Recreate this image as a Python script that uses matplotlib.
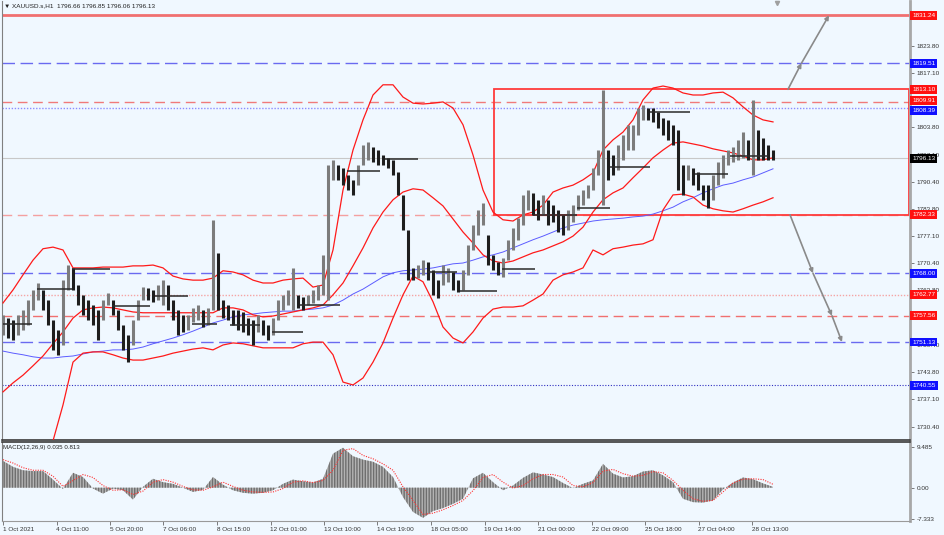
import numpy as np
import matplotlib.pyplot as plt
from matplotlib.patches import Rectangle
from matplotlib.ticker import FormatStrFormatter
from matplotlib.transforms import blended_transform_factory

plt.rcParams['font.family'] = ['Liberation Sans', 'DejaVu Sans']

# hourly bars of XAUUSD, sampled about every 3rd bar: high / low
bar_hi = [1757.8, 1757.0, 1756.5, 1757.8, 1759.0, 1761.4, 1763.9, 1765.6, 1763.9, 1761.4,
          1756.5, 1754.1, 1766.3, 1770.0, 1769.3, 1765.1, 1762.7, 1761.4, 1760.2, 1759.0,
          1761.4, 1763.2, 1761.4, 1759.0, 1755.3, 1752.9, 1756.5, 1761.4, 1764.6, 1764.4,
          1763.9, 1765.1, 1766.3, 1765.1, 1761.4, 1759.0, 1757.8, 1757.8, 1759.5, 1760.2,
          1759.0, 1759.5, 1781.1, 1773.0, 1761.4, 1760.2, 1759.0, 1759.0, 1758.5, 1757.0,
          1756.5, 1757.8, 1756.5, 1755.3, 1757.0, 1761.4, 1762.7, 1763.9, 1769.3, 1762.7,
          1762.2, 1762.7, 1763.9, 1765.1, 1772.5, 1794.5, 1795.8, 1794.5, 1793.8, 1792.1,
          1790.9, 1794.5, 1799.4, 1800.2, 1799.0, 1798.2, 1797.0, 1796.3, 1795.8, 1792.8,
          1787.2, 1778.6, 1769.3, 1770.0, 1771.2, 1770.8, 1768.8, 1766.3, 1770.0, 1769.3,
          1768.3, 1766.3, 1768.8, 1774.9, 1779.8, 1783.5, 1785.2, 1777.4, 1772.5, 1770.8,
          1771.7, 1776.2, 1779.1, 1781.5, 1787.2, 1788.4, 1787.7, 1786.0, 1787.2, 1786.0,
          1784.7, 1783.5, 1782.3, 1783.5, 1784.7, 1787.2, 1788.4, 1789.6, 1793.8, 1798.2,
          1812.9, 1798.2, 1797.0, 1799.4, 1801.9, 1804.4, 1804.4, 1808.5, 1809.3, 1808.5,
          1808.5, 1807.5, 1806.1, 1805.6, 1804.4, 1803.1, 1794.5, 1794.5, 1793.8, 1792.8,
          1789.6, 1789.6, 1792.1, 1795.3, 1797.0, 1798.2, 1799.0, 1800.7, 1802.6, 1800.7,
          1810.5, 1803.1, 1801.2, 1799.4, 1798.2]
bar_lo = [1752.9, 1752.1, 1751.6, 1752.9, 1754.1, 1755.3, 1759.0, 1761.4, 1759.0, 1755.3,
          1749.2, 1748.0, 1750.4, 1763.9, 1763.9, 1760.2, 1757.8, 1756.5, 1755.3, 1751.6,
          1756.5, 1760.2, 1757.8, 1754.1, 1749.2, 1746.2, 1750.4, 1756.5, 1761.4, 1761.4,
          1761.0, 1761.4, 1760.2, 1759.0, 1756.5, 1752.9, 1753.6, 1754.1, 1756.0, 1756.5,
          1754.8, 1755.3, 1759.0, 1759.0, 1757.0, 1756.5, 1755.3, 1754.1, 1753.6, 1752.9,
          1750.4, 1753.6, 1752.9, 1751.6, 1752.9, 1756.5, 1759.0, 1760.2, 1759.0, 1759.5,
          1759.0, 1760.2, 1760.7, 1761.4, 1762.7, 1761.4, 1790.9, 1790.9, 1789.6, 1788.4,
          1787.2, 1789.6, 1794.5, 1795.8, 1795.3, 1794.5, 1794.5, 1793.8, 1792.1, 1787.2,
          1778.6, 1766.3, 1766.3, 1766.8, 1767.6, 1766.3, 1762.7, 1761.9, 1765.1, 1765.9,
          1763.9, 1763.4, 1763.9, 1767.6, 1773.7, 1777.4, 1779.8, 1770.0, 1768.8, 1767.6,
          1767.1, 1771.2, 1773.7, 1776.2, 1779.8, 1783.5, 1782.3, 1781.1, 1782.3, 1779.8,
          1780.6, 1778.1, 1777.4, 1778.6, 1780.6, 1783.5, 1784.7, 1786.5, 1788.4, 1792.1,
          1784.7, 1790.9, 1792.1, 1793.3, 1795.8, 1798.2, 1798.2, 1801.9, 1805.6, 1805.6,
          1805.1, 1803.6, 1801.9, 1800.7, 1799.4, 1788.4, 1787.2, 1790.9, 1789.6, 1788.4,
          1786.0, 1784.0, 1786.0, 1789.6, 1791.4, 1794.5, 1795.3, 1795.8, 1796.3, 1795.8,
          1792.1, 1795.8, 1795.8, 1795.8, 1795.8]

# indicators, sampled about every 6th bar
bb_upper = [1760.7, 1763.9, 1767.6, 1771.2, 1774.0, 1774.4, 1773.7, 1769.3, 1769.3, 1769.3,
            1769.5, 1769.5, 1769.5, 1769.8, 1769.8, 1770.0, 1769.3, 1767.3, 1766.6, 1766.3,
            1766.3, 1766.8, 1768.6, 1768.3, 1767.6, 1766.3, 1765.6, 1765.6, 1766.3, 1766.6,
            1766.8, 1764.6, 1765.1, 1773.7, 1788.4, 1798.2, 1805.6, 1811.7, 1814.2, 1814.2,
            1811.2, 1809.7, 1809.5, 1809.7, 1810.0, 1808.5, 1804.4, 1797.0, 1788.4, 1783.0,
            1781.1, 1780.8, 1782.3, 1783.0, 1784.7, 1787.9, 1788.9, 1789.6, 1790.9, 1792.6,
            1798.2, 1800.7, 1802.6, 1805.6, 1810.5, 1813.4, 1813.9, 1813.4, 1812.2, 1811.7,
            1811.7, 1812.2, 1812.4, 1811.0, 1808.8, 1806.8, 1805.6, 1805.1]
bb_mid = [1738.9, 1741.1, 1743.0, 1745.3, 1747.7, 1750.7, 1753.6, 1757.0, 1759.0, 1759.5,
          1759.7, 1759.5, 1759.0, 1758.5, 1758.3, 1758.3, 1758.3, 1758.3, 1758.3, 1758.3,
          1758.3, 1758.3, 1759.5, 1759.5, 1759.0, 1757.8, 1757.3, 1757.5, 1758.0, 1758.5,
          1759.0, 1759.5, 1760.2, 1762.7, 1765.6, 1769.8, 1774.2, 1779.1, 1783.0, 1786.0,
          1787.9, 1788.7, 1788.4, 1786.5, 1784.5, 1781.3, 1778.1, 1775.4, 1772.5, 1771.0,
          1770.5, 1771.0, 1772.0, 1773.0, 1773.7, 1774.7, 1775.7, 1777.1, 1779.3, 1783.0,
          1786.0, 1787.7, 1788.9, 1791.4, 1793.8, 1796.3, 1798.2, 1799.9, 1800.2, 1799.7,
          1799.2, 1798.5, 1798.0, 1797.5, 1796.7, 1795.8, 1795.8, 1796.3]
bb_lower = [1717.1, 1718.3, 1718.5, 1719.3, 1721.5, 1726.9, 1735.7, 1746.2, 1748.4, 1748.7,
            1748.7, 1748.0, 1747.2, 1746.7, 1746.7, 1747.2, 1747.7, 1748.4, 1748.9, 1749.4,
            1749.7, 1749.2, 1750.4, 1750.9, 1750.7, 1750.2, 1749.7, 1749.7, 1749.7, 1749.7,
            1750.7, 1751.1, 1751.1, 1748.0, 1741.3, 1740.6, 1742.3, 1746.2, 1750.9, 1757.0,
            1762.7, 1767.3, 1765.9, 1761.0, 1754.8, 1752.1, 1750.9, 1753.6, 1757.0, 1759.2,
            1759.7, 1759.7, 1760.0, 1761.4, 1762.9, 1766.3, 1767.6, 1768.3, 1769.3, 1773.7,
            1772.5, 1774.0, 1774.4, 1774.9, 1775.2, 1776.2, 1783.5, 1787.2, 1787.4, 1786.7,
            1784.7, 1783.8, 1783.3, 1783.0, 1783.8, 1784.7, 1785.5, 1786.5]
ma_line = [1748.9, 1748.4, 1748.0, 1747.5, 1747.2, 1747.2, 1747.5, 1747.7, 1748.2, 1748.7,
           1748.9, 1749.2, 1749.2, 1749.4, 1749.9, 1750.7, 1751.4, 1752.1, 1752.9, 1753.8,
           1754.8, 1755.8, 1756.5, 1757.3, 1757.8, 1758.0, 1758.3, 1758.5, 1758.7, 1758.7,
           1759.0, 1759.2, 1759.5, 1760.2, 1761.4, 1762.9, 1764.1, 1765.6, 1767.1, 1768.1,
           1768.6, 1768.8, 1769.0, 1769.3, 1769.8, 1770.3, 1770.5, 1771.2, 1772.0, 1772.5,
           1773.2, 1774.2, 1775.2, 1776.2, 1777.1, 1778.1, 1779.1, 1779.8, 1780.3, 1780.8,
           1781.1, 1781.3, 1781.5, 1781.8, 1782.0, 1782.5, 1783.3, 1784.2, 1785.5, 1786.5,
           1787.7, 1788.7, 1789.6, 1790.1, 1790.9, 1791.6, 1792.6, 1793.6]
macd_hist = [6.3, 4.9, 4.1, 3.9, 3.9, 1.9, -0.3, 3.5, 2.5, -0.2,
             -1.4, -0.2, -0.6, -2.8, 0.2, 2.1, 1.3, 0.9, 0.0, -1.0,
             -0.5, 2.5, 0.7, -0.6, -1.2, -1.4, -1.2, -0.6, 0.9, 1.9,
             1.5, 1.2, 2.1, 8.0, 9.4, 7.4, 6.6, 6.1, 4.9, 2.5,
             -2.2, -5.7, -7.1, -5.5, -4.8, -3.8, -2.6, 2.2, 3.5, 1.3,
             -0.6, 0.5, 2.3, 3.6, 3.1, 2.5, 1.1, -0.1, 0.9, 1.7,
             5.6, 3.3, 2.4, 2.7, 3.8, 4.1, 2.9, 1.3, -2.6, -3.4,
             -3.5, -3.0, -0.4, 1.2, 2.4, 2.0, 1.0, 0.2]
macd_signal = [6.6, 5.8, 4.7, 4.1, 4.1, 2.7, 0.3, 1.7, 3.1, 2.4,
               0.5, -0.6, -0.5, -1.6, -0.8, 1.3, 1.9, 1.3, 0.3, -0.5,
               -0.6, 0.2, 1.3, 0.3, -0.6, -1.0, -1.1, -1.0, -0.2, 1.3,
               1.6, 1.2, 1.7, 4.1, 8.8, 9.2, 7.6, 6.8, 5.6, 4.1,
               0.2, -3.0, -6.3, -6.0, -5.2, -4.2, -3.0, -0.7, 2.4, 3.1,
               1.3, -0.1, 0.5, 2.1, 3.1, 3.1, 2.5, 0.5, 0.2, 1.2,
               3.9, 4.3, 3.3, 2.7, 2.9, 3.8, 3.5, 1.7, -0.6, -2.6,
               -3.2, -3.0, -1.0, 1.1, 2.0, 2.1, 1.9, 0.8]

# daily open segments (start, end in sample steps, price)
seg_start = [0, 6.8, 13.8, 21.8, 30.4, 37.8, 45.4, 53.8, 59.4, 68.8, 76.4, 85, 91.4, 99.8,
             106, 114.8, 121.4, 129.4, 138.4, 145.4]
seg_end = [5.8, 13.8, 21.4, 29.4, 37, 42.8, 51.4, 60, 67.4, 75.4, 83, 90.8, 98.8, 106.4,
           114.8, 121.4, 129.4, 137.4, 145, 153]
seg_price = [1755.6, 1764.1, 1769.0, 1760.0, 1762.4, 1755.5, 1755.3, 1753.6, 1760.2, 1793.1,
             1796.0, 1768.3, 1763.6, 1769.0, 1782.3, 1784.0, 1794.1, 1807.5, 1792.3, 1796.8]

date_labels = ['1 Oct 2021', '4 Oct 11:00', '5 Oct 20:00', '7 Oct 06:00', '8 Oct 15:00',
               '12 Oct 01:00', '13 Oct 10:00', '14 Oct 19:00', '18 Oct 05:00', '19 Oct 14:00',
               '21 Oct 00:00', '22 Oct 09:00', '25 Oct 18:00', '27 Oct 04:00', '28 Oct 13:00']
price_ticks = [1823.80, 1817.10, 1810.40, 1803.80, 1797.10, 1790.40, 1783.80, 1777.10,
               1770.40, 1763.80, 1757.10, 1750.40, 1743.80, 1737.10, 1730.40]
# ticks whose labels sit fully under a level box
hidden_ticks = [1810.40, 1757.10]

levels = [1831.24, 1819.51, 1813.10, 1809.91, 1808.39, 1796.13, 1782.33, 1768.00,
          1762.77, 1757.56, 1751.13, 1740.55]
level_box = ['#ff1010', '#1010ff', '#ff1010', '#ff1010', '#1010ff', '#000000', '#ff1010',
             '#1010ff', '#ff1010', '#ff1010', '#1010ff', '#1010ff']
label_nudge = [0, 0, 0, 0.45, -0.55, 0, 0, 0, 0, 0, 0, 0]
level_line = [('#f07070', '-', 2.0), ('#6a6af0', (0, (9, 4)), 1.0), None,
              ('#f07a7a', (0, (7, 4)), 1.0), ('#8c8cff', (0, (1, 1.2)), 1.0),
              ('#c8c8c8', '-', 0.8), ('#f4a0a0', (0, (7, 4)), 1.0), ('#6a6af0', (0, (9, 4)), 1.0),
              ('#f5a5a5', (0, (1, 1.2)), 1.0), ('#f07070', (0, (7, 4)), 1.0),
              ('#6a6af0', (0, (9, 4)), 1.0), ('#3030c0', (0, (1, 1.5)), 0.8)]

# target zones: box and projected moves
box_x = (98.2, 181.2)
box_y = (1782.33, 1813.10)
up_x = [157.0, 159.7, 165.2]
up_y = [1813.10, 1819.51, 1831.24]
down_x = [157.4, 162.0, 165.8, 167.8]
down_y = [1782.33, 1768.00, 1757.56, 1751.13]

bg = '#f0f8ff'
fig = plt.figure(figsize=(9.45, 5.35), dpi=100, facecolor=bg)


def px_box(l, t, r, b):
    return [l / 945, 1 - b / 535, (r - l) / 945, (b - t) / 535]


ax = fig.add_axes(px_box(2, 1, 910, 440), facecolor=bg)
ax2 = fig.add_axes(px_box(2, 442, 910, 521), facecolor=bg, sharex=ax)

xb = np.arange(len(bar_hi))
xi = np.arange(len(bb_mid)) * 2
hi = np.array(bar_hi)
lo = np.array(bar_lo)
mid = (hi + lo) / 2
up = np.r_[True, np.diff(mid) >= 0]

for i, lev in enumerate(levels):
    if level_line[i] is None:
        continue
    c, ls, lw = level_line[i]
    ax.axhline(lev, color=c, ls=ls, lw=lw, zorder=1)

ax.add_patch(Rectangle((box_x[0], box_y[0]), box_x[1] - box_x[0], box_y[1] - box_y[0],
                       fill=False, ec='#ff3b3b', lw=1.3, zorder=2))

ax.plot(xi, ma_line, color='#5c5cff', lw=0.7, zorder=3)
ax.plot(xi, bb_upper, color='#ff1a1a', lw=0.9, zorder=3)
ax.plot(xi, bb_mid, color='#ff1a1a', lw=0.9, zorder=3)
ax.plot(xi, bb_lower, color='#ff1a1a', lw=0.9, zorder=3)

ax.vlines(xb[up], lo[up], hi[up], color='#7c7c7c', lw=2.2, zorder=4)
ax.vlines(xb[~up], lo[~up], hi[~up], color='#1e1e1e', lw=2.2, zorder=4)
ax.hlines(seg_price, seg_start, seg_end, color='#2a2a2a', lw=1.1, zorder=4)

arrow_kw = dict(arrowstyle='-|>', color='#8a8a8a', lw=1.2, mutation_scale=6,
                shrinkA=0, shrinkB=0)
for xs, ys in ((up_x, up_y), (down_x, down_y)):
    for a in range(len(xs) - 1):
        ax.annotate('', xy=(xs[a + 1], ys[a + 1]), xytext=(xs[a], ys[a]),
                    arrowprops=arrow_kw, zorder=5)

ax.set_xlim(-0.2, 181.4)
ax.set_ylim(1727.1, 1834.75)
ax.set_yticks(price_ticks)
ax.set_yticklabels(['' if t in hidden_ticks else f'{t:.2f}' for t in price_ticks])
ax.tick_params(axis='y', left=False, labelleft=False, right=True, labelright=True,
               length=3, width=0.6, color='#666666', labelsize=4.6, pad=2,
               labelcolor='#333333')
ax.tick_params(axis='x', bottom=False, labelbottom=False)

trans = blended_transform_factory(ax.transAxes, ax.transData)
for lev, c, dy in zip(levels, level_box, label_nudge):
    ax.text(1.0025, lev + dy, f'{lev:.2f}', transform=trans, ha='left', va='center',
            fontsize=4.6, color='white', clip_on=False, zorder=6,
            bbox=dict(boxstyle='square,pad=0.3', fc=c, ec='none'))

ax.plot([154.8], [1834.2], marker='v', ms=3, color='#a0a0a0', clip_on=False)

ax.spines['top'].set_visible(False)
ax.spines['left'].set_color('#808080')
ax.spines['right'].set_color('#a8a8a8')
ax.spines['right'].set_linewidth(2)
ax.spines['bottom'].set_color('#3a3a3a')
ax.spines['bottom'].set_linewidth(1.2)

# MACD panel
ax2.fill_between(xi, 0, macd_hist, facecolor='#b4b4b4', edgecolor='#6e6e6e',
                 hatch='||||||', lw=0, zorder=2)
ax2.plot(xi, macd_signal, color='#ff3030', lw=0.8, ls=(0, (1, 1.2)), zorder=3)
ax2.set_ylim(-7.84, 10.75)
ax2.set_yticks([9.485, 0.0, -7.333])
ax2.set_yticklabels(['9.485', '0.00', '-7.333'])
ax2.tick_params(axis='y', left=False, labelleft=False, right=True, labelright=True,
                length=3, width=0.6, color='#666666', labelsize=4.6, pad=2,
                labelcolor='#333333')
ax2.set_xticks(np.arange(len(date_labels)) * 10.7)
ax2.set_xticklabels(date_labels, ha='left')
ax2.tick_params(axis='x', length=3, width=0.6, color='#666666', labelsize=4.6, pad=1.5,
                labelcolor='#333333')
ax2.spines['top'].set_color('#3a3a3a')
ax2.spines['top'].set_linewidth(1.2)
ax2.spines['left'].set_color('#808080')
ax2.spines['right'].set_color('#a8a8a8')
ax2.spines['right'].set_linewidth(2)
ax2.spines['bottom'].set_color('#9a9a9a')

fig.text(4 / 945, 1 - 6 / 535, '\u25bc XAUUSD.s,H1  1796.66 1796.85 1796.06 1796.13',
         fontsize=4.6, va='center', ha='left', color='#202020')
fig.text(3 / 945, 1 - 447 / 535, 'MACD(12,26,9) 0.035 0.813', fontsize=4.4,
         va='center', ha='left', color='#202020')

fig.savefig('out.png', dpi=100, facecolor=bg)
